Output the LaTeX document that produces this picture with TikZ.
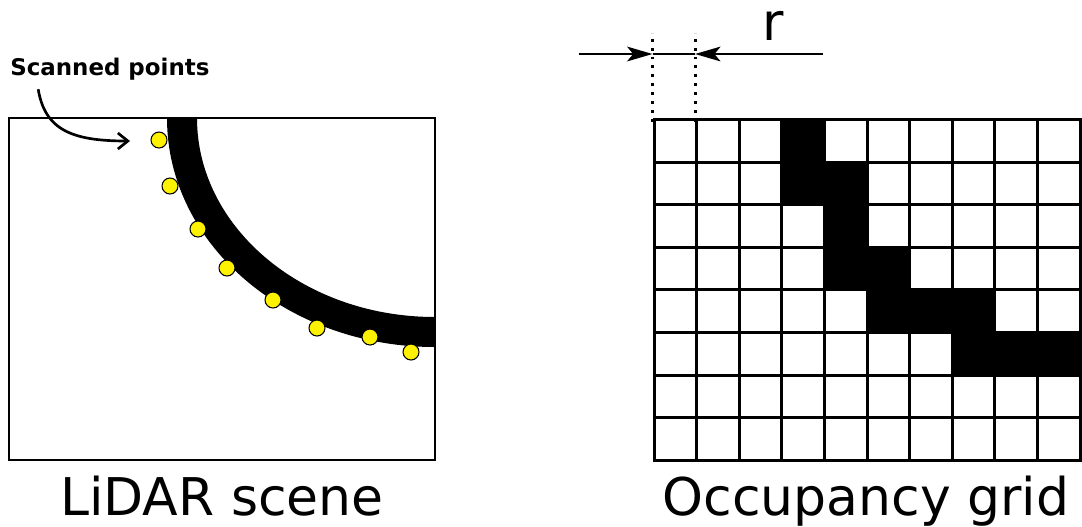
\documentclass[tikz,border=0pt]{standalone}
\usepackage{fontspec}
\setmainfont{DejaVu Sans}
\usetikzlibrary{arrows.meta, positioning}

\begin{document}
\begin{tikzpicture}[x=0.75pt, y=-0.75pt,
    frame/.style={rectangle, draw=black, line width=2pt, inner sep=0pt},
    cell/.style={rectangle, draw=black, line width=2.3pt, inner sep=0pt, minimum size=31.95pt, anchor=north west},
    wall/.style={draw=black, line width=22.5pt},
    scanpt/.style={circle, draw=black, fill=yellow, line width=0.8pt, inner sep=0pt, minimum size=12pt},
    caption/.style={font=\fontsize{39}{44}\selectfont, anchor=base},
    line/.style={draw, line width=2pt},
    dimarrow/.style={line, -{Stealth[length=19pt, width=11pt, inset=4.5pt]}},
    dotline/.style={draw, line width=2.2pt, dash pattern=on 2.2pt off 4.5pt}]

    \useasboundingbox (0,0) rectangle (1082,526);

    % left: the scene
    \draw [wall] (182,118) arc [start angle=180, end angle=90, x radius=253, y radius=214];
    \node [frame, minimum width=319.5pt, minimum height=256.5pt] (scene) at (222,289) {};
    \foreach \i/\px/\py in {1/159/140, 2/170/186, 3/198/229, 4/227/268,
                            5/273/300, 6/317/328, 7/370/337, 8/411/352}
        \node [scanpt] (p\i) at (\px,\py) {};

    \node [font=\bfseries\fontsize{17.2}{20}\selectfont, anchor=base west, inner sep=0pt] (scan) at (10,75) {Scanned points};
    \coordinate (scantip) at (130,141);
    \draw [line, shorten <=7pt, -{Straight Barb[length=7.5pt, width=12pt]}]
        ([xshift=20pt]scan.south west) .. controls (45,130) and (72,141) .. (scantip);

    \node [caption] (scenelbl) at (222,515) {LiDAR scene};

    % right: the grid
    \foreach \r in {0,...,7}
        \foreach \c in {0,...,9}
            \node [cell] (c\r\c) at (652.5+42.6*\c, 118+42.6*\r) {};
    \foreach \r/\c in {0/3, 1/3, 1/4, 2/4, 3/4, 3/5, 4/5, 4/6, 4/7, 5/7, 5/8, 5/9}
        \node [cell, fill=black] at (c\r\c.north west) {};

    % cell size r
    \coordinate (rl) at ([yshift=48pt]c00.north west);
    \coordinate (rr) at ([yshift=48pt]c01.north west);
    \draw [dotline] ([yshift=-3pt]c00.north west) -- ([yshift=64pt]c00.north west);
    \draw [dotline] ([yshift=-3pt]c01.north west) -- ([yshift=64pt]c01.north west);
    \draw [dimarrow] ([xshift=-55.5pt]rl) -- (rl);
    \draw [dimarrow] ([xshift=96pt]rr) -- (rr);
    \draw [line] (rl) -- (rr);
    \node [caption] (rlabel) at (773,40) {r};

    \node [caption] (gridlbl) at (866,515) {Occupancy grid};
\end{tikzpicture}
\end{document}
